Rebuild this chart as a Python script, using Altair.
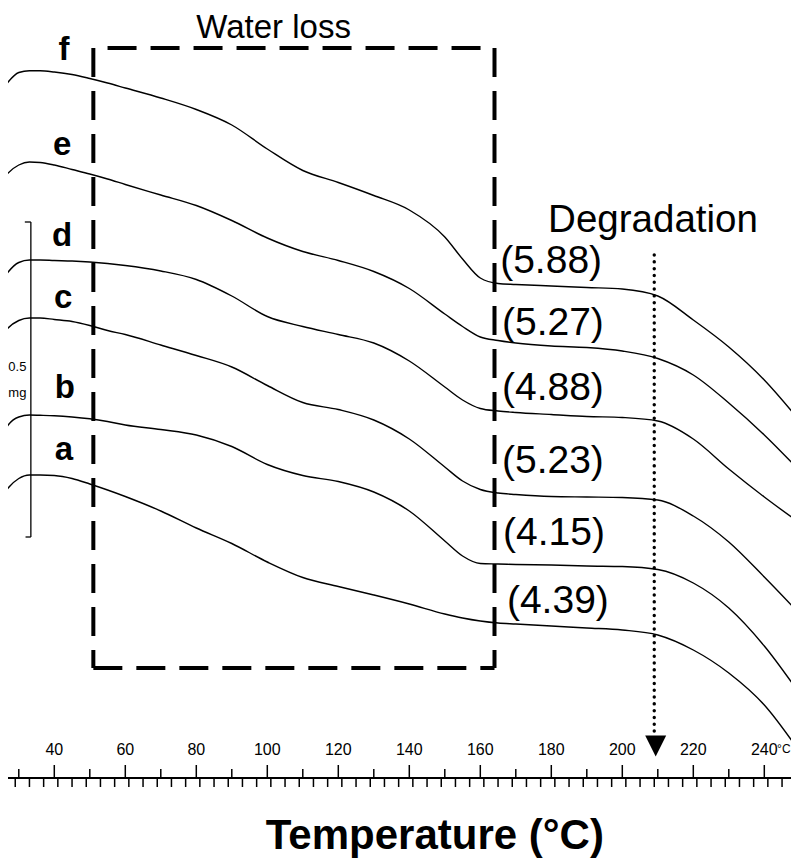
import altair as alt
import pandas as pd

# ---------------- data ----------------
temps = [25, 27, 30, 33, 36, 40, 45, 50, 55, 60, 70, 80, 90, 100, 110, 120,
         130, 140, 150, 155, 160, 165, 170, 180, 190, 200, 210, 220, 230, 240, 250]

# signal (arbitrary mass units, offset stacked curves)
curve_f = [686, 696, 705.5, 707.2, 707.2, 706, 703.5, 699.5, 695, 690, 680, 668.5, 653, 629,
           607.5, 595.5, 582.5, 568, 541, 519, 500, 494.5, 493.5, 492, 490.5, 489, 482, 458,
           431, 398, 357]
curve_e = [596, 605, 613, 616, 615.5, 613, 608.5, 604, 599, 593.5, 583, 572.5, 557.5, 540,
           526.5, 517.5, 506.5, 489.5, 464, 451.5, 441, 437.5, 435, 432, 430.5, 427, 419.5,
           403, 375, 343, 307]
curve_d = [496, 506, 515.5, 518, 518, 517.5, 517, 516, 514.5, 512.5, 507, 498.5, 482, 461.5,
           451.5, 443.5, 435, 417, 391, 378, 369.5, 367, 365.5, 363.5, 361.5, 360.5, 357, 339,
           309, 281, 255]
curve_c = [440, 450, 457.5, 460, 460, 458.5, 456.5, 452.5, 447.5, 443.5, 433, 422.5, 411,
           392.5, 375.5, 368.5, 358, 339, 311, 297, 288.5, 285, 283.5, 281.5, 281, 280.5, 278,
           262, 236, 201, 164]
curve_b = [341, 353, 361, 363, 362.7, 362.2, 361, 359.2, 356.5, 353, 348.5, 343, 331.5, 313.5,
           302.5, 296.5, 286, 267, 237, 222, 214.5, 214, 213.5, 213, 212, 211.5, 208.5, 195,
           170, 132, 84]
curve_a = [280, 290, 299.5, 303, 303, 302.5, 299.5, 294, 288, 281.5, 267, 250, 234.5, 216,
           200.5, 191.5, 183, 174, 164, 160, 157, 155, 154, 152, 150, 148, 143, 128, 105, 73, 26]

sample_names = ["a", "b", "c", "d", "e", "f"]
sample_label_T = [42.7, 43.0, 42.5, 42.2, 42.2, 42.7]
sample_label_u = [318, 380, 470, 532, 623, 718]

water_values = ["(4.39)", "(4.15)", "(5.23)", "(4.88)", "(5.27)", "(5.88)"]
water_label_T = [167.5, 166.4, 166.1, 166.1, 166.1, 165.6]
water_label_u = [165, 233, 305, 378, 443, 505]

water_loss_range = [51, 164]        # degC, dashed box
water_loss_box_u = [110, 730]
degradation_T = 209                # degC, dotted arrow
degradation_u = [523, 43]
arrow_u = 32

major_ticks = list(range(30, 250, 10))
minor_ticks = list(range(25, 250, 4))
tick_labels = list(range(40, 250, 20))

scale_bar_T = 33.4
scale_bar_u = [241, 556]

T_MIN, T_MAX = 26.96, 247.52
U_MIN, U_MAX = -80, 770

# ---------------- scales ----------------
XS = alt.Scale(domain=[T_MIN, T_MAX], nice=False, zero=False)
YS = alt.Scale(domain=[U_MIN, U_MAX], nice=False, zero=False)


def X(f="T"):
    return alt.X(f"{f}:Q", scale=XS, axis=None)


def Y(f="u"):
    return alt.Y(f"{f}:Q", scale=YS, axis=None)


# ---------------- curves ----------------
rows = []
for name, vals in zip(sample_names, [curve_a, curve_b, curve_c, curve_d, curve_e, curve_f]):
    for t, v in zip(temps, vals):
        rows.append({"T": t, "u": v, "sample": name})
curves = alt.Chart(pd.DataFrame(rows)).mark_line(
    color="black", strokeWidth=1.4, interpolate="monotone", clip=True
).encode(x=X(), y=Y(), detail="sample:N")

# dashed box
x0, x1 = water_loss_range
y0, y1 = water_loss_box_u
box_df = pd.DataFrame([
    {"T": x0 + 4, "T2": x1, "u": y1, "u2": y1},
    {"T": x0, "T2": x0, "u": y1, "u2": y0},
    {"T": x1, "T2": x1, "u": y1, "u2": y0},
    {"T": x0, "T2": x1, "u": y0, "u2": y0},
])
box = alt.Chart(box_df).mark_rule(color="black", strokeWidth=4, strokeDash=[29, 14]).encode(
    x=X(), x2="T2:Q", y=Y(), y2="u2:Q")

# dotted arrow
dot_df = pd.DataFrame([{"T": degradation_T, "u": degradation_u[0], "u2": degradation_u[1]}])
dotted = alt.Chart(dot_df).mark_rule(color="black", strokeWidth=3.4, strokeDash=[0.1, 6.7],
                                     strokeCap="round").encode(x=X(), y=Y(), y2="u2:Q")
arrow = alt.Chart(pd.DataFrame([{"T": degradation_T + 0.4, "u": arrow_u}])).mark_point(
    shape="M-1,-1L1,-1L0,1Z", filled=True, size=441, color="black", opacity=1
).encode(x=X(), y=Y())

# axis
axis_line = alt.Chart(pd.DataFrame([{"T": T_MIN, "T2": T_MAX, "u": 0}])).mark_rule(
    color="black", strokeWidth=2).encode(x=X(), x2="T2:Q", y=Y())
maj_df = pd.DataFrame([{"T": t, "u": 0, "u2": 13 if t % 20 == 0 else 9} for t in major_ticks])
maj = alt.Chart(maj_df).mark_rule(color="black", strokeWidth=1.5).encode(x=X(), y=Y(), y2="u2:Q")
min_df = pd.DataFrame([{"T": t, "u": 0, "u2": -9} for t in minor_ticks])
mnr = alt.Chart(min_df).mark_rule(color="black", strokeWidth=1.5).encode(x=X(), y=Y(), y2="u2:Q")
lab_df = pd.DataFrame([{"T": t, "u": 28, "txt": str(t), "fs": 16} for t in tick_labels] +
                      [{"T": 245.5, "u": 29, "txt": "°C", "fs": 12}])
labs = alt.Chart(lab_df).mark_text(
    font="Liberation Sans, Arial, sans-serif",
    baseline="middle", align="center", color="black"
).encode(x=X(), y=Y(), text="txt:N", size=alt.Size("fs:Q", scale=None, legend=None))

title = alt.Chart(pd.DataFrame([{"T": 147.2, "u": -71, "txt": "Temperature (°C)"}])).mark_text(
    font="Liberation Sans, Arial, sans-serif", fontSize=42, fontWeight="bold",
    baseline="alphabetic", align="center", color="black"
).encode(x=X(), y=Y(), text="txt:N")

# sample letters
let_df = pd.DataFrame({"T": sample_label_T, "u": sample_label_u, "txt": sample_names})
letters = alt.Chart(let_df).mark_text(
    font="Liberation Sans, Arial, sans-serif", fontSize=33, fontWeight="bold",
    baseline="alphabetic", align="center", color="black"
).encode(x=X(), y=Y(), text="txt:N")

# water-content labels
wv_df = pd.DataFrame({"T": water_label_T, "u": water_label_u, "txt": water_values})
wvals = alt.Chart(wv_df).mark_text(
    font="Liberation Sans, Arial, sans-serif", fontSize=39,
    baseline="alphabetic", align="left", color="black"
).encode(x=X(), y=Y(), text="txt:N")

ann_df = pd.DataFrame([
    {"T": 80.0, "u": 740, "txt": "Water loss", "fs": 33},
    {"T": 179.1, "u": 546, "txt": "Degradation", "fs": 38.5},
])
ann = alt.Chart(ann_df).mark_text(
    font="Liberation Sans, Arial, sans-serif",
    baseline="alphabetic", align="left", color="black"
).encode(x=X(), y=Y(), text="txt:N",
         size=alt.Size("fs:Q", scale=None, legend=None))

# scale bar 0.5 mg
sb_df = pd.DataFrame([
    {"T": scale_bar_T, "T2": scale_bar_T, "u": scale_bar_u[0], "u2": scale_bar_u[1]},
    {"T": scale_bar_T - 1.7, "T2": scale_bar_T, "u": scale_bar_u[1], "u2": scale_bar_u[1]},
    {"T": scale_bar_T - 1.5, "T2": scale_bar_T, "u": scale_bar_u[0], "u2": scale_bar_u[0]},
])
sbar = alt.Chart(sb_df).mark_rule(color="black", strokeWidth=1.3).encode(
    x=X(), x2="T2:Q", y=Y(), y2="u2:Q")
sbt_df = pd.DataFrame([{"T": 29.6, "u": 407, "txt": "0.5"}, {"T": 29.6, "u": 381, "txt": "mg"}])
sbt = alt.Chart(sbt_df).mark_text(
    font="Liberation Sans, Arial, sans-serif", fontSize=13,
    baseline="alphabetic", align="center", color="black"
).encode(x=X(), y=Y(), text="txt:N")

chart = alt.layer(
    curves, box, dotted, arrow, axis_line, maj, mnr, labs, title, letters, wvals, ann, sbar, sbt
).properties(
    width=783, height=850, padding=0, autosize=alt.AutoSizeParams(type="none")
).configure_view(stroke=None)

chart.save("out.html", embed_options={"renderer": "svg", "actions": False})
